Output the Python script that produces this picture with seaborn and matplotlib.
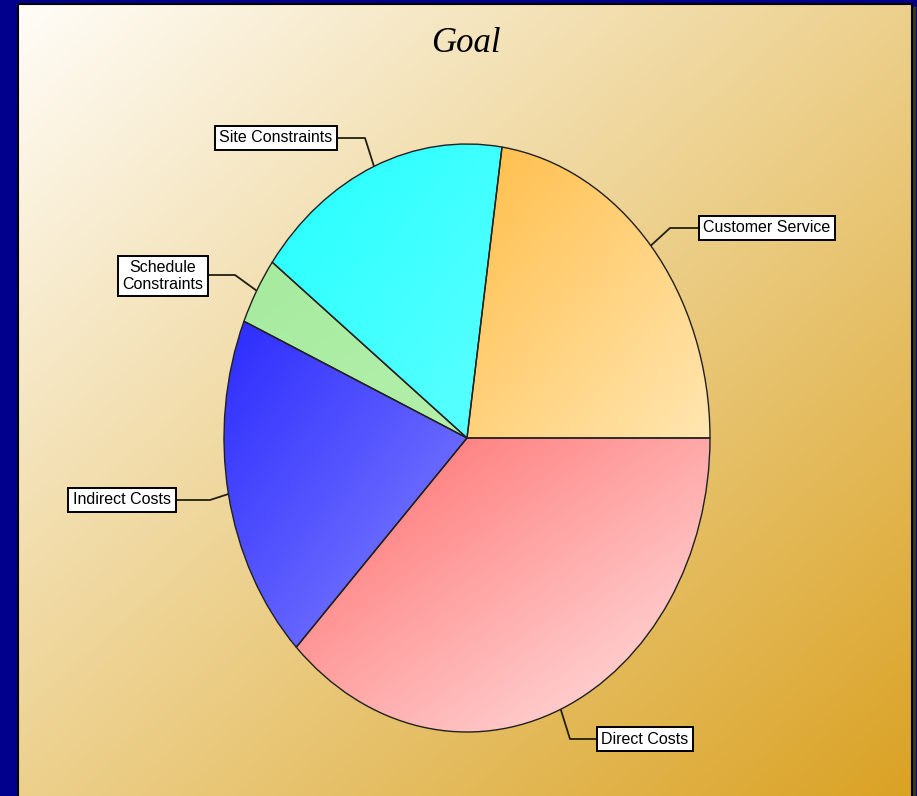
import numpy as np
import matplotlib
matplotlib.use("Agg")
import matplotlib.pyplot as plt
import seaborn as sns

# ---- data ----
categories = ["Customer Service", "Site Constraints", "Schedule\nConstraints",
              "Indirect Costs", "Direct Costs"]
values = [22.7, 17.1, 3.7, 19.1, 37.4]
title = "Goal"

# gradient colours per slice (top-left -> bottom-right)
grad_start = ["#ffbe4a", "#24ffff", "#a6eb9e", "#2c2cff", "#ff6c6c"]
grad_end = ["#ffe6b0", "#5cffff", "#b4f0ac", "#8484ff", "#ffe4e4"]

# label layout (pixel coords): box centre, elbow point
label_pos = [(767, 228), (276, 138), (163, 276), (122, 500), (645, 739)]
elbows = [(670, 228), (365, 138), (235, 275), (210, 500), (570, 739)]
box_side = ["left", "right", "right", "right", "left"]

sns.set_theme(style="white")
plt.rcParams["font.family"] = ["Liberation Sans Narrow", "Liberation Sans", "DejaVu Sans"]

W, H = 917, 796
fig = plt.figure(figsize=(W / 100, H / 100), dpi=100)
fig.patch.set_facecolor("#00008c")

ax = fig.add_axes([0, 0, 1, 1])
ax.set_xlim(0, W)
ax.set_ylim(H, 0)
ax.axis("off")
ax.set_facecolor("#00008c")

# navy slide background
ax.add_patch(plt.Rectangle((0, 0), W, H, color="#00008c", zorder=0))

# panel gradient
px0, px1, py0, py1 = 18, 912, 4, 800
ny, nx = 200, 220
yy, xx = np.mgrid[0:1:ny * 1j, 0:1:nx * 1j]
t = (xx + yy) / 2
c0 = np.array([255, 253, 248]) / 255
c1 = np.array([236, 208, 140]) / 255
c2 = np.array([218, 162, 36]) / 255
img = np.where((t < 0.5)[..., None],
               c0 + (c1 - c0) * (t / 0.5)[..., None],
               c1 + (c2 - c1) * ((t - 0.5) / 0.5)[..., None])
# shadow
ax.add_patch(plt.Rectangle((px0 + 3, py0 + 3), px1 - px0, py1 - py0,
                           color="#3a3a20", zorder=1))
ax.imshow(img, extent=[px0, px1, py1, py0], aspect="auto", zorder=2,
          interpolation="bilinear")
ax.add_patch(plt.Rectangle((px0, py0), px1 - px0, py1 - py0, fill=False,
                           edgecolor="black", lw=1.5, zorder=3))

ax.text(466, 43, title, ha="center", va="center", fontsize=25,
        style="italic", family=["Liberation Serif", "DejaVu Serif"],
        color="black", zorder=5)

# pie axes positioned on the ellipse box
ex0, ex1, ey0, ey1 = 224, 710, 144, 732
pax = fig.add_axes([ex0 / W, 1 - ey1 / H, (ex1 - ex0) / W, (ey1 - ey0) / H])
pax.patch.set_alpha(0)
wedges, _ = pax.pie(values, startangle=0, counterclock=True, radius=1,
                    wedgeprops=dict(edgecolor="#202020", linewidth=1.0))
pax.set_aspect("auto")
pax.set_xlim(-1, 1)
pax.set_ylim(-1, 1)
pax.axis("off")

for w, cs, ce in zip(wedges, grad_start, grad_end):
    bb = w.get_path().get_extents(w.get_patch_transform())
    a = np.array(matplotlib.colors.to_rgb(cs))
    b = np.array(matplotlib.colors.to_rgb(ce))
    gy, gx = np.mgrid[0:1:64j, 0:1:64j]
    tt = ((gx + gy) / 2)[..., None]
    g = a + (b - a) * tt
    im = pax.imshow(g, extent=[bb.x0, bb.x1, bb.y0, bb.y1], origin="upper",
                    aspect="auto", zorder=1, interpolation="bilinear")
    im.set_clip_path(w)
    w.set_facecolor("none")
    w.set_zorder(2)
pax.set_xlim(-1, 1)
pax.set_ylim(-1, 1)

# labels with leader lines
fig.canvas.draw()
inv = ax.transData.inverted()
for w, lab, pos, el, side in zip(wedges, categories, label_pos, elbows, box_side):
    mid = np.deg2rad((w.theta1 + w.theta2) / 2)
    disp = pax.transData.transform((np.cos(mid), np.sin(mid)))
    anchor = inv.transform(disp)
    txt = ax.text(pos[0], pos[1], lab, ha="center", va="center", fontsize=11.5,
                  color="black", zorder=6, linespacing=1.1,
                  bbox=dict(boxstyle="square,pad=0.3", facecolor="white",
                            edgecolor="black", lw=1.4))
    fig.canvas.draw()
    tb = txt.get_bbox_patch().get_window_extent()
    x0d, _ = inv.transform((tb.x0, tb.y0))
    x1d, _ = inv.transform((tb.x1, tb.y0))
    edge_x = x0d if side == "left" else x1d
    ax.plot([anchor[0], el[0], edge_x], [anchor[1], el[1], el[1]],
            color="#202010", lw=1.3, zorder=5)

fig.savefig("out.png", dpi=100, facecolor=fig.get_facecolor())
